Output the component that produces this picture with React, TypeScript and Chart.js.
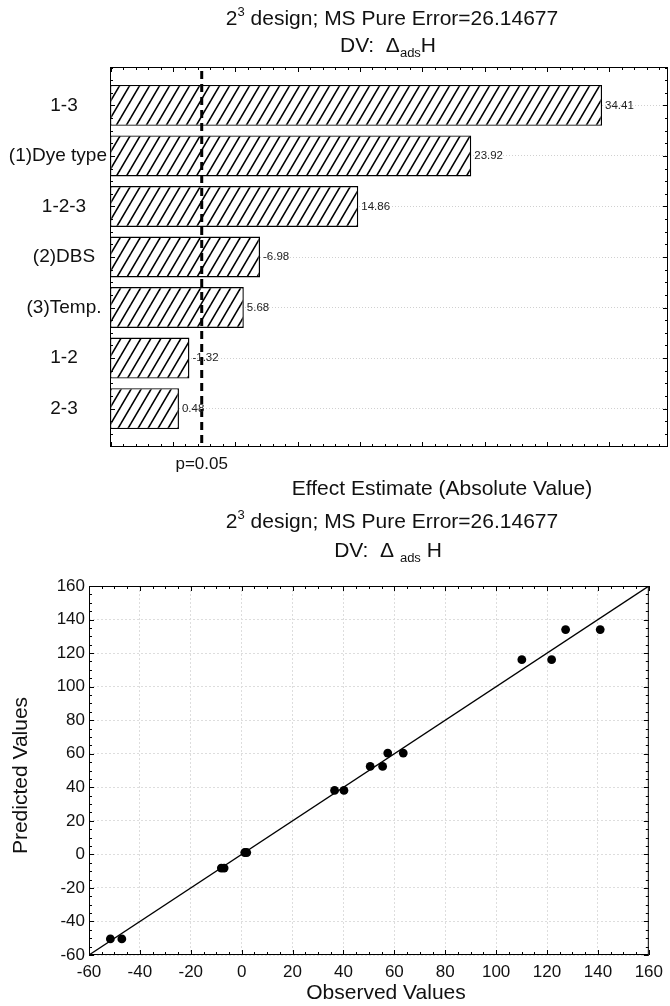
import { useEffect, useRef } from "react";
import { Chart, registerables } from "chart.js";

Chart.register(...registerables);

const FONT = "'Liberation Sans', Arial, Helvetica, sans-serif";
Chart.defaults.font.family = FONT;

// ---- Pareto chart of standardized effects ----
const EFFECT_LABELS = ["1-3", "(1)Dye type", "1-2-3", "(2)DBS", "(3)Temp.", "1-2", "2-3"];
const EFFECT_VALUES = [34.41, 23.92, 14.86, -6.98, 5.68, -1.32, 0.48];
const P_CRITICAL = 2.306;
const P_LABEL = "p=0.05";
const EFFECT_AXIS_MIN = -5.05;
const EFFECT_AXIS_MAX = 39.7;
const EFFECT_AXIS_TITLE = "Effect Estimate (Absolute Value)";

// ---- Observed vs. predicted values ----
const OBSERVED = [-51.6, -47.1, -8.0, -6.9, 1.2, 2.0, 36.5, 40.2, 50.5, 55.4, 57.4, 63.5, 110.1, 121.8, 127.3, 140.9];
const PREDICTED = [-50.4, -50.4, -8.2, -8.2, 1.1, 1.1, 38.1, 38.1, 52.4, 52.4, 60.4, 60.4, 116.1, 116.1, 134.0, 134.0];
const FIT_LINE_X = [-60, 160];
const FIT_LINE_Y = [-60, 160];
const VALUE_AXIS_MIN = -60;
const VALUE_AXIS_MAX = 160;
const VALUE_AXIS_STEP = 20;
const VALUE_MINOR_STEP = 5;
const X_TITLE = "Observed Values";
const Y_TITLE = "Predicted Values";

type Part = { text: string; kind?: "sup" | "sub" };
const TITLE_PARTS: Part[] = [{ text: "2" }, { text: "3", kind: "sup" }, { text: " design; MS Pure Error=26.14677" }];
const DV_PARTS_TOP: Part[] = [{ text: "DV:  \u0394" }, { text: "ads", kind: "sub" }, { text: "H" }];
const DV_PARTS_BOTTOM: Part[] = [{ text: "DV:  \u0394 " }, { text: "ads", kind: "sub" }, { text: " H" }];

function drawRich(ctx: CanvasRenderingContext2D, parts: Part[], cx: number, y: number, size: number) {
  const items = parts.map((p) => {
    const s = p.kind ? size * 0.62 : size;
    ctx.font = `${s}px ${FONT}`;
    return { ...p, s, w: ctx.measureText(p.text).width };
  });
  const total = items.reduce((acc, it) => acc + it.w, 0);
  let x = cx - total / 2;
  ctx.textAlign = "left";
  ctx.textBaseline = "alphabetic";
  ctx.fillStyle = "#111";
  for (const it of items) {
    ctx.font = `${it.s}px ${FONT}`;
    const dy = it.kind === "sup" ? -size * 0.42 : it.kind === "sub" ? size * 0.24 : 0;
    ctx.fillText(it.text, x, y + dy);
    x += it.w;
  }
}

function seg(ctx: CanvasRenderingContext2D, x1: number, y1: number, x2: number, y2: number) {
  ctx.beginPath();
  ctx.moveTo(x1, y1);
  ctx.lineTo(x2, y2);
  ctx.stroke();
}

function makeHatch(): CanvasPattern | string {
  const w = 10;
  const h = 17;
  const c = document.createElement("canvas");
  c.width = w;
  c.height = h;
  const g = c.getContext("2d");
  if (!g) return "#fff";
  g.fillStyle = "#fff";
  g.fillRect(0, 0, w, h);
  g.strokeStyle = "#000";
  g.lineWidth = 1.6;
  for (const dx of [-w, 0, w]) {
    g.beginPath();
    g.moveTo(dx - w, 2 * h);
    g.lineTo(dx + 2 * w, -h);
    g.stroke();
  }
  return g.createPattern(c, "repeat") || "#fff";
}

const paretoDecor = {
  id: "paretoDecor",
  afterDatasetsDraw(chart: any) {
    const { ctx, chartArea: a, scales } = chart;
    const x = scales.x;
    const y = scales.y;
    ctx.save();
    ctx.strokeStyle = "#000";
    ctx.lineWidth = 1;
    ctx.strokeRect(a.left + 0.5, a.top + 0.5, a.right - a.left - 1, a.bottom - a.top - 1);

    for (let v = Math.ceil(x.min); v <= x.max; v++) {
      const px = Math.round(x.getPixelForValue(v)) + 0.5;
      const len = v % 5 === 0 ? 5 : 3;
      seg(ctx, px, a.top, px, a.top + len);
      seg(ctx, px, a.bottom, px, a.bottom - len);
    }
    for (let q = Math.ceil(y.min * 4); q <= y.max * 4; q++) {
      const py = Math.round(y.getPixelForValue(q / 4)) + 0.5;
      const len = q % 4 === 0 ? 5 : 3;
      seg(ctx, a.left, py, a.left + len, py);
      seg(ctx, a.right, py, a.right - len, py);
    }

    // critical t value
    const cx = x.getPixelForValue(P_CRITICAL);
    ctx.lineWidth = 3;
    ctx.setLineDash([8, 5]);
    seg(ctx, cx, a.top + 4, cx, a.bottom);
    ctx.setLineDash([]);

    ctx.fillStyle = "#111";
    ctx.font = `17px ${FONT}`;
    ctx.textAlign = "center";
    ctx.textBaseline = "alphabetic";
    ctx.fillText(P_LABEL, cx, a.bottom + 22);

    // bar value labels
    const meta = chart.getDatasetMeta(0);
    ctx.font = `11.5px ${FONT}`;
    ctx.textAlign = "left";
    ctx.textBaseline = "middle";
    ctx.fillStyle = "#222";
    meta.data.forEach((bar: any, i: number) => {
      ctx.fillText(EFFECT_VALUES[i].toFixed(2), bar.x + 3, bar.y);
    });

    // category labels
    ctx.font = `19px ${FONT}`;
    ctx.fillStyle = "#111";
    EFFECT_LABELS.forEach((label, i) => {
      const w = ctx.measureText(label).width;
      let lx = 64 - w / 2;
      if (lx + w > a.left - 3) lx = a.left - 3 - w;
      if (lx < 4) lx = 4;
      ctx.fillText(label, lx, y.getPixelForValue(i));
    });

    // titles
    drawRich(ctx, TITLE_PARTS, 392, 25, 21);
    drawRich(ctx, DV_PARTS_TOP, 388, 52, 21);
    ctx.font = `21px ${FONT}`;
    ctx.textAlign = "center";
    ctx.textBaseline = "alphabetic";
    ctx.fillStyle = "#111";
    ctx.fillText(EFFECT_AXIS_TITLE, 442, a.bottom + 48);
    ctx.restore();
  },
};

const fitDecor = {
  id: "fitDecor",
  afterDatasetsDraw(chart: any) {
    const { ctx, chartArea: a, scales } = chart;
    const x = scales.x;
    const y = scales.y;
    ctx.save();
    ctx.strokeStyle = "#000";
    ctx.lineWidth = 1;
    ctx.strokeRect(a.left + 0.5, a.top + 0.5, a.right - a.left - 1, a.bottom - a.top - 1);
    for (let v = VALUE_AXIS_MIN; v <= VALUE_AXIS_MAX; v += VALUE_MINOR_STEP) {
      const len = v % VALUE_AXIS_STEP === 0 ? 5 : 3;
      const px = Math.round(x.getPixelForValue(v)) + 0.5;
      seg(ctx, px, a.bottom, px, a.bottom - len);
      seg(ctx, px, a.top, px, a.top + len);
      const py = Math.round(y.getPixelForValue(v)) + 0.5;
      seg(ctx, a.left, py, a.left + len, py);
      seg(ctx, a.right, py, a.right - len, py);
    }
    drawRich(ctx, TITLE_PARTS, 392, 28, 21);
    drawRich(ctx, DV_PARTS_BOTTOM, 388, 57, 21);

    ctx.fillStyle = "#111";
    ctx.font = `21px ${FONT}`;
    ctx.textAlign = "center";
    ctx.textBaseline = "alphabetic";
    ctx.fillText(X_TITLE, 386, a.bottom + 44);
    ctx.translate(27, (a.top + a.bottom) / 2 + 5);
    ctx.rotate(-Math.PI / 2);
    ctx.fillText(Y_TITLE, 0, 0);
    ctx.restore();
  },
};

export default function App() {
  const topRef = useRef<HTMLCanvasElement>(null);
  const bottomRef = useRef<HTMLCanvasElement>(null);

  useEffect(() => {
    if (!topRef.current || !bottomRef.current) return;
    const hatch = makeHatch();

    const pareto = new Chart(topRef.current, {
      type: "bar",
      data: {
        datasets: [
          {
            data: EFFECT_VALUES.map((v, i) => ({ x: Math.abs(v), y: i })),
            base: EFFECT_AXIS_MIN,
            backgroundColor: hatch as any,
            borderColor: "#000",
            borderWidth: 1.4,
            borderSkipped: false,
            categoryPercentage: 1,
            barPercentage: 0.81,
          } as any,
        ],
      },
      options: {
        indexAxis: "y",
        animation: false,
        responsive: false,
        events: [],
        layout: { padding: { top: 67, right: 2, bottom: 53, left: 0 } },
        plugins: { legend: { display: false }, tooltip: { enabled: false } },
        scales: {
          x: { type: "linear", min: EFFECT_AXIS_MIN, max: EFFECT_AXIS_MAX, display: false },
          y: {
            type: "linear",
            min: -0.76,
            max: EFFECT_LABELS.length - 1 + 0.76,
            reverse: true,
            offset: false,
            afterBuildTicks: (axis: any) => {
              axis.ticks = EFFECT_LABELS.map((_, i) => ({ value: i }));
            },
            afterFit: (axis: any) => {
              axis.width = 110;
            },
            ticks: { display: false },
            grid: { color: "#d0d0d0", lineWidth: 1, drawTicks: false, offset: false },
            border: { display: false, dash: [1, 2] },
          },
        },
      } as any,
      plugins: [paretoDecor],
    });

    const fit = new Chart(bottomRef.current, {
      type: "scatter",
      data: {
        datasets: [
          {
            data: OBSERVED.map((o, i) => ({ x: o, y: PREDICTED[i] })),
            pointRadius: 4.4,
            pointBackgroundColor: "#000",
            pointBorderColor: "#000",
            pointBorderWidth: 0,
          },
          {
            data: FIT_LINE_X.map((v, i) => ({ x: v, y: FIT_LINE_Y[i] })),
            showLine: true,
            pointRadius: 0,
            borderColor: "#000",
            borderWidth: 1.3,
          },
        ],
      },
      options: {
        animation: false,
        responsive: false,
        events: [],
        layout: { padding: { top: 86, right: 15, bottom: 0, left: 0 } },
        plugins: { legend: { display: false }, tooltip: { enabled: false } },
        scales: {
          x: {
            type: "linear",
            min: VALUE_AXIS_MIN,
            max: VALUE_AXIS_MAX,
            ticks: { stepSize: VALUE_AXIS_STEP, autoSkip: false, maxRotation: 0, padding: 7, color: "#111", font: { size: 17 } },
            grid: { color: "#dddddd", drawTicks: false },
            border: { display: false, dash: [2, 2] },
            afterFit: (axis: any) => {
              axis.height = 51;
            },
          },
          y: {
            type: "linear",
            min: VALUE_AXIS_MIN,
            max: VALUE_AXIS_MAX,
            ticks: { stepSize: VALUE_AXIS_STEP, autoSkip: false, padding: 4, color: "#111", font: { size: 17 } },
            grid: { color: "#dddddd", drawTicks: false },
            border: { display: false, dash: [2, 2] },
            afterFit: (axis: any) => {
              axis.width = 89;
            },
          },
        },
      } as any,
      plugins: [fitDecor],
    });

    return () => {
      pareto.destroy();
      fit.destroy();
    };
  }, []);

  return (
    <div style={{ position: "absolute", left: 0, top: 0, width: 670, height: 1006, background: "#fff" }}>
      <canvas ref={topRef} width={670} height={500} style={{ display: "block" }} />
      <canvas ref={bottomRef} width={670} height={506} style={{ display: "block" }} />
    </div>
  );
}
